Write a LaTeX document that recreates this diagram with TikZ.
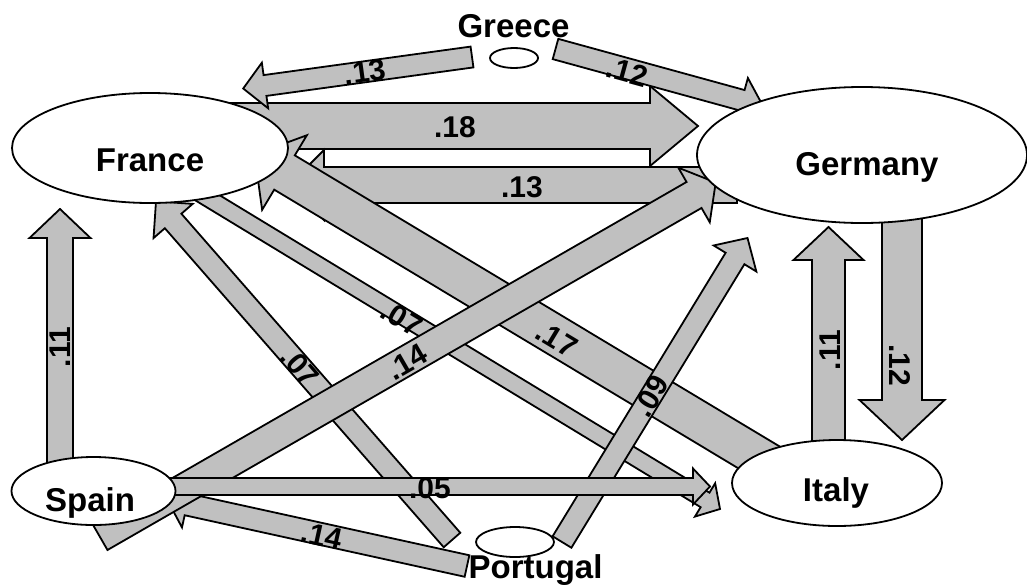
\documentclass[tikz,border=0pt]{standalone}
\usepackage{fontspec}
\setmainfont{Liberation Sans}
\usetikzlibrary{shapes.geometric,calc}
\definecolor{flowgray}{RGB}{192,192,192}
\tikzstyle{country}=[ellipse, draw, fill=white, line width=1.8pt, inner sep=0pt]
\tikzstyle{cname}=[font=\fontsize{33}{36}\selectfont\bfseries, inner sep=0pt]
\tikzstyle{flow}=[draw, fill=flowgray, line width=1.8pt, line join=miter]
\tikzstyle{val}=[font=\fontsize{30}{32}\selectfont\bfseries, inner sep=0pt]
\newcommand{\country}{\node[country]}
% block arrow: tail, tip, shaft width, head width, head length
\newcommand{\flow}[5]{%
  \coordinate (hb) at ($(#2)!#5pt!(#1)$);
  \draw[flow] ($(#1)!#3pt/2!90:(#2)$) -- ($(hb)!#3pt/2!90:(#2)$)
    -- ($(hb)!#4pt/2!90:(#2)$) -- (#2) -- ($(hb)!#4pt/2!-90:(#2)$)
    -- ($(hb)!#3pt/2!-90:(#2)$) -- ($(#1)!#3pt/2!-90:(#2)$) -- cycle;}

\begin{document}
\begin{tikzpicture}[x=1pt, y=-1pt]
\useasboundingbox (0,0) rectangle (1027,587);

\coordinate (fg-t) at (200,126);   \coordinate (fg-h) at (698,126);
\coordinate (gf-t) at (737,185);   \coordinate (gf-h) at (289,185);
\coordinate (if-t) at (790,476);   \coordinate (if-h) at (254.5,154.5);
\coordinate (fi-t) at (193,189);   \coordinate (fi-h) at (720,509);
\coordinate (pf-t) at (452,540);   \coordinate (pf-h) at (156,201.4);
\coordinate (ps-t) at (467,566);   \coordinate (ps-h) at (167.5,500.2);
\coordinate (sg-t) at (100,537);   \coordinate (sg-h) at (715.7,182.5);
\coordinate (pg-t) at (562,542);   \coordinate (pg-h) at (747.5,238);
\coordinate (si-t) at (150,486.5); \coordinate (si-h) at (710,486.5);
\coordinate (grf-t) at (472,57);   \coordinate (grf-h) at (243.2,88.5);
\coordinate (grg-t) at (555.5,49); \coordinate (grg-h) at (763,106);
\coordinate (sf-t) at (60,470);    \coordinate (sf-h) at (60,209);
\coordinate (ig-t) at (828.5,460); \coordinate (ig-h) at (828.5,227);
\coordinate (gi-t) at (902,200);   \coordinate (gi-h) at (902,440);

\flow{fg-t}{fg-h}{46}{80}{48}
\node[val] (fg-v) at (455,127) {.18};
\flow{gf-t}{gf-h}{36}{70}{35}
\node[val] (gf-v) at (522,187) {.13};
\flow{if-t}{if-h}{40}{87}{35}
\node[val, rotate=-31] (if-v) at (557,339) {.17};
\flow{fi-t}{fi-h}{17}{39}{17.5}
\node[val, rotate=-31] (fi-v) at (402,318) {.07};
\flow{pf-t}{pf-h}{22}{52}{26}
\node[val, rotate=-49] (pf-v) at (300,367) {.07};
\flow{ps-t}{ps-h}{22}{47}{20}
\node[val, rotate=-12.4] (ps-v) at (322,536) {.14};
\flow{sg-t}{sg-h}{30}{63}{25}
\node[val, rotate=30] (sg-v) at (407,362) {.14};
\flow{pg-t}{pg-h}{22}{50}{24}
\node[val, rotate=58.6] (pg-v) at (651,396) {.09};
\flow{si-t}{si-h}{17}{36}{17}
\node[val] (si-v) at (430,488) {.05};
\flow{grf-t}{grf-h}{21}{46}{22}
\node[val, rotate=7.8] (grf-v) at (365,72) {.13};
\flow{grg-t}{grg-h}{21}{46}{22}
\node[val, rotate=-15.3] (grg-v) at (627,72) {.12};
\flow{sf-t}{sf-h}{26}{61}{29}
\node[val, rotate=90] (sf-v) at (60,347) {.11};
\flow{ig-t}{ig-h}{33}{70}{33}
\node[val, rotate=90] (ig-v) at (830,350) {.11};
\flow{gi-t}{gi-h}{40}{85}{40}
\node[val, rotate=-90] (gi-v) at (900,365) {.12};

\country[minimum width=276, minimum height=110] (france) at (150,148) {};
\country[minimum width=330, minimum height=136] (germany) at (862,155) {};
\country[minimum width=164, minimum height=68] (spain) at (93.5,491) {};
\country[minimum width=210, minimum height=86] (italy) at (837,483) {};
\country[minimum width=48, minimum height=20] (greece) at (514,58) {};
\country[minimum width=78, minimum height=30] (portugal) at (515,542) {};

\node[cname] (france-n) at (150,160) {France};
\node[cname] (germany-n) at (867,167) {Germany};
\node[cname] (spain-n) at (90,503) {Spain};
\node[cname] (italy-n) at (836,493) {Italy};
\node[cname] (greece-n) at (513.5,26) {Greece};
\node[cname] (portugal-n) at (535.5,570) {Portugal};
\end{tikzpicture}
\end{document}
